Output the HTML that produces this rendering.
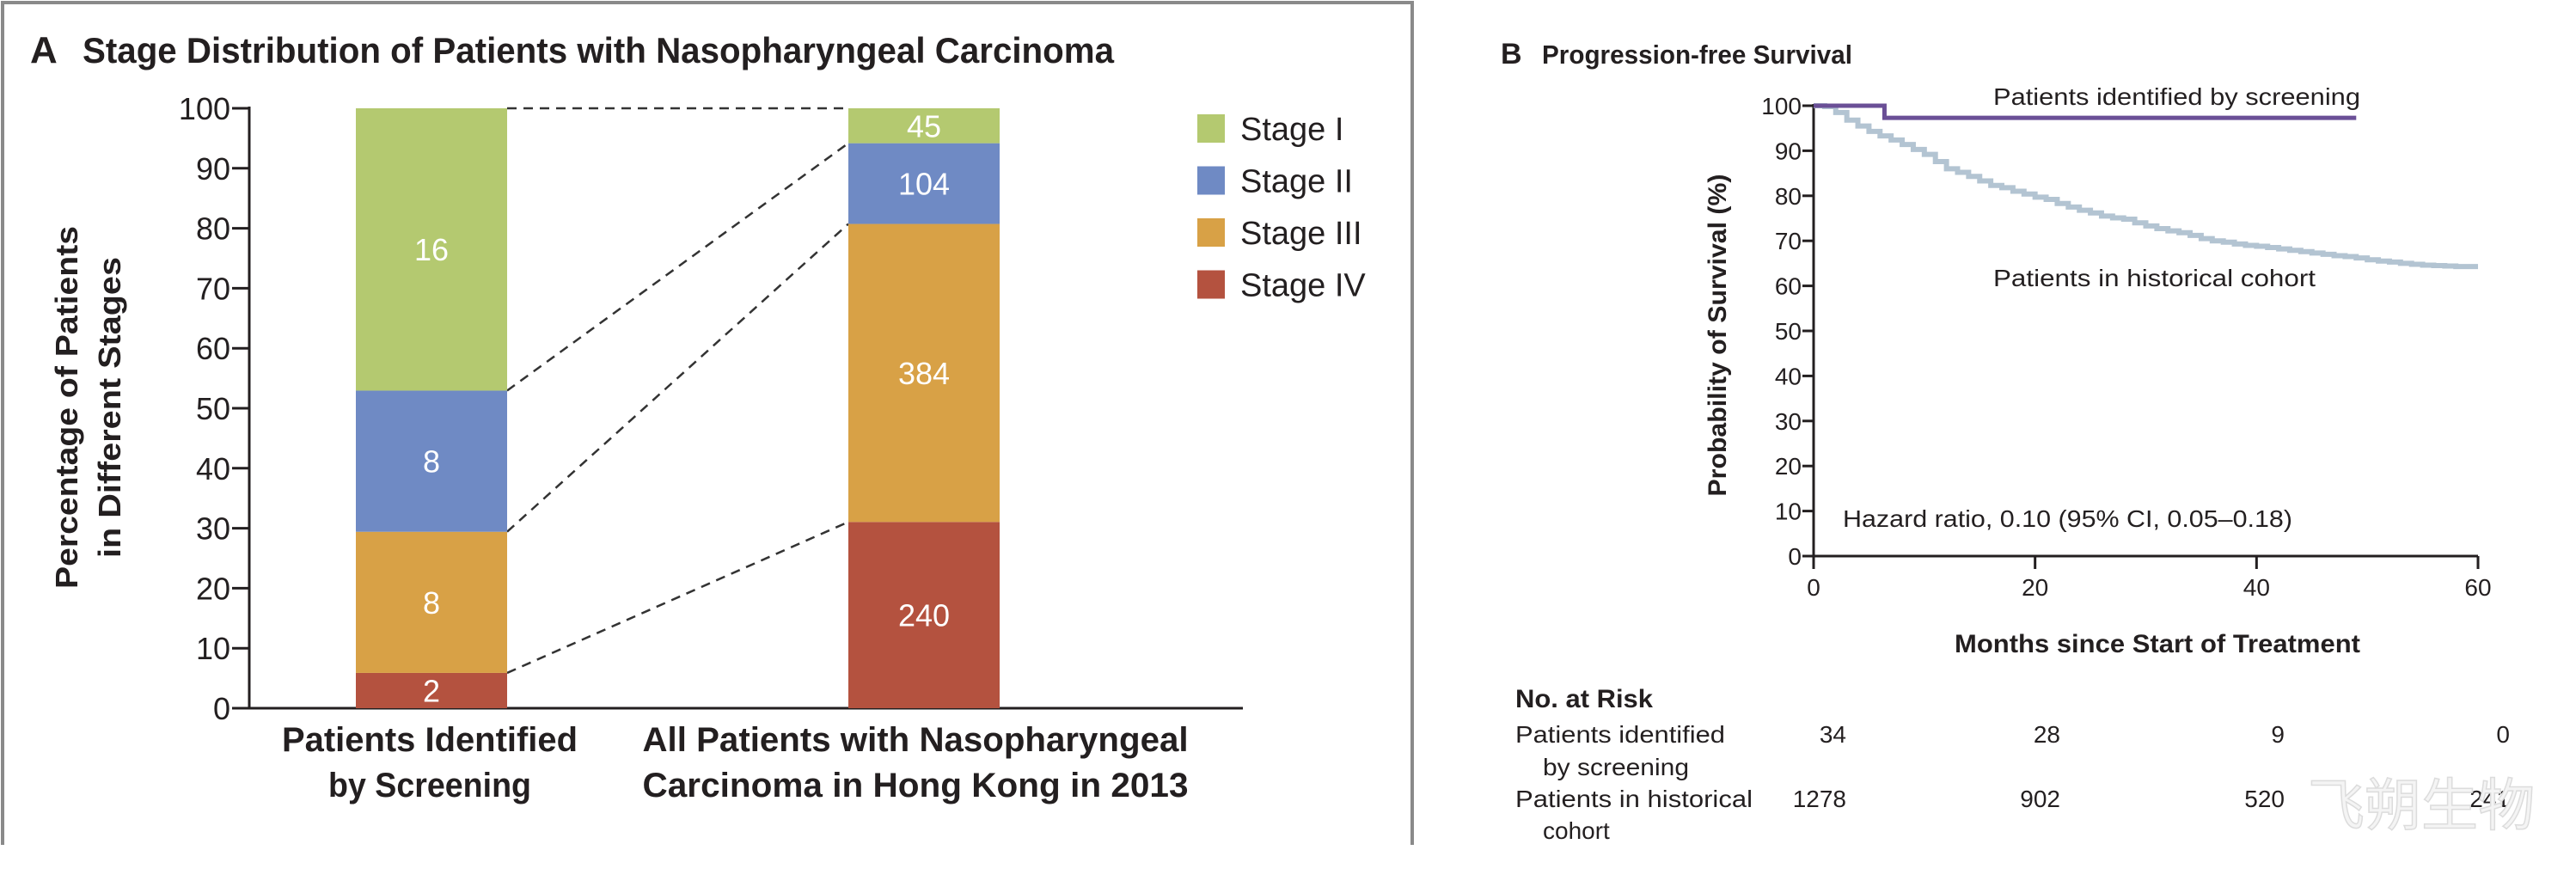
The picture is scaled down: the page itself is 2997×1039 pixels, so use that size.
<!DOCTYPE html>
<html><head><meta charset="utf-8">
<style>
html,body{margin:0;padding:0;background:#fff;}
svg{display:block;font-family:"Liberation Sans",sans-serif;}
</style></head>
<body>
<svg id="fig" width="2997" height="1039" viewBox="0 0 2997 1039" xmlns="http://www.w3.org/2000/svg">
  <g id="panelA">
    <path d="M3,983 L3,3 L1643,3 L1643,983" fill="none" stroke="#8a8a8a" stroke-width="4"/>
    <text x="35" y="73" font-size="44" font-weight="bold" fill="#231f20">A</text>
    <text x="96" y="73" font-size="42" font-weight="bold" fill="#231f20" textLength="1200" lengthAdjust="spacingAndGlyphs">Stage Distribution of Patients with Nasopharyngeal Carcinoma</text>
    <g transform="translate(90,474) rotate(-90)">
      <text x="0" y="0" text-anchor="middle" font-size="36" font-weight="bold" fill="#231f20" textLength="422" lengthAdjust="spacingAndGlyphs">Percentage of Patients</text>
      <text x="0" y="50" text-anchor="middle" font-size="36" font-weight="bold" fill="#231f20" textLength="350" lengthAdjust="spacingAndGlyphs">in Different Stages</text>
    </g>
    <g id="aAxes"></g>
    <g id="aDash"></g>
    <g id="aBars"></g>
    <g id="aLegend"></g>
    <g font-size="40" fill="#231f20" font-weight="bold">
      <text x="500" y="874" text-anchor="middle" textLength="344" lengthAdjust="spacingAndGlyphs">Patients Identified</text>
      <text x="500" y="927" text-anchor="middle" textLength="236" lengthAdjust="spacingAndGlyphs">by Screening</text>
      <text x="1065" y="874" text-anchor="middle" textLength="635" lengthAdjust="spacingAndGlyphs">All Patients with Nasopharyngeal</text>
      <text x="1065" y="927" text-anchor="middle" textLength="635" lengthAdjust="spacingAndGlyphs">Carcinoma in Hong Kong in 2013</text>
    </g>
  </g>
  <g id="panelB">
    <text x="1746" y="74" font-size="34" font-weight="bold" fill="#231f20">B</text>
    <text x="1794" y="74" font-size="31" font-weight="bold" fill="#231f20" textLength="361" lengthAdjust="spacingAndGlyphs">Progression-free Survival</text>
    <text transform="translate(2008,390) rotate(-90)" text-anchor="middle" font-size="30" font-weight="bold" fill="#231f20" textLength="375" lengthAdjust="spacingAndGlyphs">Probability of Survival (%)</text>
    <text x="2510" y="759" text-anchor="middle" font-size="30" font-weight="bold" fill="#231f20" textLength="472" lengthAdjust="spacingAndGlyphs">Months since Start of Treatment</text>
    <text x="2319" y="122" font-size="28" fill="#231f20" textLength="427" lengthAdjust="spacingAndGlyphs">Patients identified by screening</text>
    <text x="2319" y="333" font-size="28" fill="#231f20" textLength="375" lengthAdjust="spacingAndGlyphs">Patients in historical cohort</text>
    <text x="2144" y="613" font-size="28" fill="#231f20" textLength="523" lengthAdjust="spacingAndGlyphs">Hazard ratio, 0.10 (95% CI, 0.05–0.18)</text>
    <g id="bAxes"></g>
    <g id="bCurves"></g>
    <g id="riskTable" font-size="28" fill="#231f20">
      <text x="1763" y="823" font-weight="bold" font-size="30" textLength="160" lengthAdjust="spacingAndGlyphs">No. at Risk</text>
      <text x="1763" y="864" textLength="244" lengthAdjust="spacingAndGlyphs">Patients identified</text>
      <text x="1795" y="902" textLength="170" lengthAdjust="spacingAndGlyphs">by screening</text>
      <text x="1763" y="939" textLength="276" lengthAdjust="spacingAndGlyphs">Patients in historical</text>
      <text x="1795" y="976">cohort</text>
    </g>
    <text x="2685" y="960" font-size="66" fill="#f4f4f4" stroke="#dcdcdc" stroke-width="1.5" font-family="'Liberation Sans','Noto Sans CJK SC',sans-serif">飞朔生物</text>
  </g>
</svg>
<script>
// ---------- Panel A data ----------
const aCategories = ["Patients Identified by Screening", "All Patients in Hong Kong 2013"];
const aStages = ["Stage I", "Stage II", "Stage III", "Stage IV"];
const aCountsScreening = [16, 8, 8, 2];
const aCountsAll = [45, 104, 384, 240];
const aYTicks = [0,10,20,30,40,50,60,70,80,90,100];
const aColors = ["#b4c970", "#6f8ac4", "#d8a146", "#b4523f"];

// ---------- Panel B data ----------
const bXTicks = [0, 20, 40, 60];
const bYTicks = [0,10,20,30,40,50,60,70,80,90,100];
const screenMonths = [0, 6.4, 49];
const screenSurv = [100, 97.3, 97.3];
const histMonths = [0,1,2,3,4,5,6,7,8,9,10,11,12,13,14,15,16,17,18,19,20,21,22,23,24,25,26,27,28,29,30,31,32,33,34,35,36,37,38,39,40,41,42,43,44,45,46,47,48,49,50,51,52,53,54,55,56,57,58,59,60];
const histSurv = [100,99.8,98.5,96.8,95.5,94.3,93.3,92.4,91.4,90.3,89.2,87.6,86.0,85.2,84.3,83.3,82.3,81.8,81.0,80.4,79.7,79.2,78.3,77.5,76.8,76.2,75.5,75.1,74.8,74.0,73.3,72.7,72.2,71.8,71.2,70.5,70.0,69.7,69.3,69.0,68.8,68.5,68.2,67.9,67.6,67.3,67.0,66.7,66.5,66.2,65.8,65.5,65.3,65.0,64.8,64.6,64.5,64.4,64.3,64.3,64.3];
const riskScreening = ["34", "28", "9", "0"];
const riskHistorical = ["1278", "902", "520", "241"];

const NS = "http://www.w3.org/2000/svg";
function mk(tag, attrs, parent){ const e=document.createElementNS(NS,tag); for(const k in attrs) e.setAttribute(k, attrs[k]); parent.appendChild(e); return e; }

// ----- Panel A scales -----
const aY0 = 824, aY100 = 126;
const ay = v => aY0 + (aY100 - aY0) * v / 100;
const aBarX = [414, 987], aBarW = 176;
const aAxes = document.getElementById('aAxes');
let ln = mk('line', {x1:290,y1:ay(100)-2,x2:290,y2:aY0,stroke:'#231f20','stroke-width':3}, aAxes);


ln = mk('line', {x1:290,y1:aY0,x2:1446,y2:aY0,stroke:'#231f20','stroke-width':3}, aAxes);


aYTicks.forEach(t => {
  const tk = mk('line', {x1:270,y1:ay(t),x2:290,y2:ay(t),stroke:'#231f20','stroke-width':3}, aAxes);
  
  
  const tx = mk('text', {x:268,y:ay(t)+13,'text-anchor':'end','font-size':36,fill:'#231f20'}, aAxes);
  tx.textContent = t;
  
  
});
function cumPct(counts){
  const total = counts.reduce((a,b)=>a+b,0);
  const segs=[]; let base=0;
  for(let i=counts.length-1;i>=0;i--){ const p=counts[i]/total*100; segs.push({stage:i,lo:base,hi:base+p,count:counts[i]}); base+=p; }
  return segs;
}
const aSeries = [cumPct(aCountsScreening), cumPct(aCountsAll)];
const aBars = document.getElementById('aBars');
aSeries.forEach((segs, bi) => {
  segs.forEach(s => {
    const r = mk('rect', {x:aBarX[bi], y:ay(s.hi), width:aBarW, height:ay(s.lo)-ay(s.hi), fill:aColors[s.stage]}, aBars);
    
    
    const t = mk('text', {x:aBarX[bi]+aBarW/2, y:(ay(s.lo)+ay(s.hi))/2+13, 'text-anchor':'middle','font-size':36, fill:'#fff'}, aBars);
    t.textContent = s.count;
    
    
  });
});
const aDash = document.getElementById('aDash');
const bounds0 = [100].concat(aSeries[0].slice().reverse().map(s=>s.lo)).slice(0,4);
const bounds1 = [100].concat(aSeries[1].slice().reverse().map(s=>s.lo)).slice(0,4);
for(let i=0;i<4;i++){
  const d = mk('line', {x1:aBarX[0]+aBarW, y1:ay(bounds0[i]), x2:aBarX[1], y2:ay(bounds1[i]), stroke:'#333','stroke-width':2.5,'stroke-dasharray':'11 8'}, aDash);
  
  
}
const aLegend = document.getElementById('aLegend');
aStages.forEach((s,i) => {
  const y = 133 + i*60.5;
  const r = mk('rect', {x:1393,y:y,width:32,height:33,fill:aColors[i]}, aLegend);
  
  
  const t = mk('text', {x:1443,y:y+30,'font-size':38,fill:'#231f20'}, aLegend);
  t.textContent = s;
  
  
});

// ----- Panel B scales -----
const bX0 = 2110, bX60 = 2883, bY0 = 647, bY100 = 123;
const bx = m => bX0 + (bX60 - bX0) * m / 60;
const by = v => bY0 + (bY100 - bY0) * v / 100;
const bAxes = document.getElementById('bAxes');
ln = mk('line', {x1:bx(0),y1:by(100)-2,x2:bx(0),y2:bY0,stroke:'#231f20','stroke-width':3}, bAxes);


ln = mk('line', {x1:bx(0),y1:bY0,x2:bx(60),y2:bY0,stroke:'#231f20','stroke-width':3}, bAxes);


bYTicks.forEach(t => {
  const tk = mk('line', {x1:bx(0)-13,y1:by(t),x2:bx(0),y2:by(t),stroke:'#231f20','stroke-width':3}, bAxes);
  
  
  const tx = mk('text', {x:bx(0)-14,y:by(t)+10,'text-anchor':'end','font-size':28,fill:'#231f20'}, bAxes);
  tx.textContent = t;
  
  
});
bXTicks.forEach(t => {
  const tk = mk('line', {x1:bx(t),y1:bY0,x2:bx(t),y2:bY0+15,stroke:'#231f20','stroke-width':3}, bAxes);
  
  
  const tx = mk('text', {x:bx(t),y:693,'text-anchor':'middle','font-size':28,fill:'#231f20'}, bAxes);
  tx.textContent = t;
  
  
});
function stepPath(ms, vs){
  let d = 'M'+bx(ms[0])+','+by(vs[0]);
  for(let i=1;i<ms.length;i++){ d += ' H'+bx(ms[i])+' V'+by(vs[i]); }
  return d;
}
const bCurves = document.getElementById('bCurves');
const ph = mk('path', {d:stepPath(histMonths,histSurv), fill:'none', stroke:'#b3c4d2','stroke-width':6}, bCurves);


const ps = mk('path', {d:stepPath(screenMonths,screenSurv), fill:'none', stroke:'#6a4f96','stroke-width':5}, bCurves);



const riskTable = document.getElementById('riskTable');
const riskRight = [2148, 2397, 2658, 2920];
riskScreening.forEach((v,i) => {
  const t = mk('text', {x:riskRight[i], y:864, 'text-anchor':'end'}, riskTable);
  t.textContent = v;
  
  
});
riskHistorical.forEach((v,i) => {
  const t = mk('text', {x:riskRight[i], y:939, 'text-anchor':'end'}, riskTable);
  t.textContent = v;
  
  
});
</script>
</body></html>
